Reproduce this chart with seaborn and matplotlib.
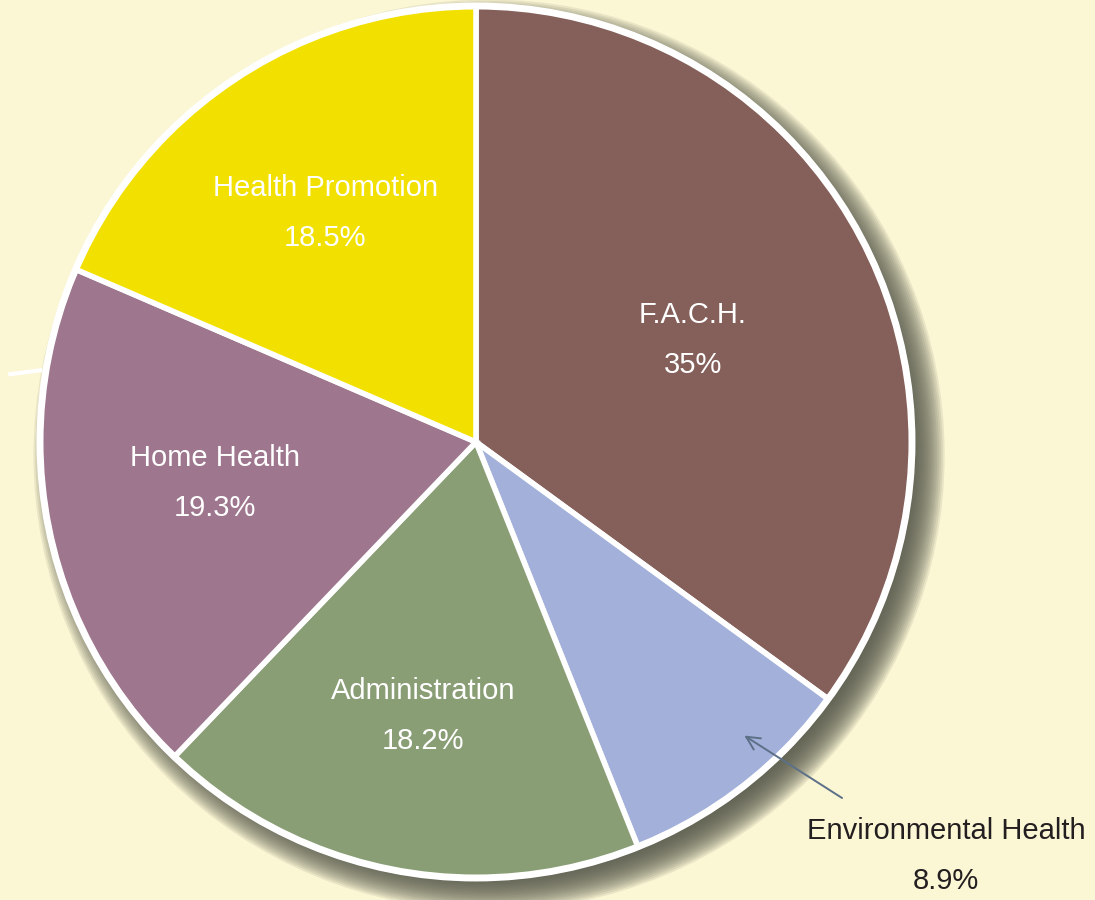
import numpy as np
import matplotlib
matplotlib.use("Agg")
import matplotlib.pyplot as plt
import seaborn as sns

# data, clockwise from 12 o'clock
labels = ["F.A.C.H.", "Environmental Health", "Administration", "Home Health", "Health Promotion"]
pct_text = ["35%", "8.9%", "18.2%", "19.3%", "18.5%"]
shares = [35.0, 8.9, 18.2, 19.3, 18.5]
colors = ["#85605A", "#A2B0DA", "#8A9E76", "#9E768E", "#F2E000"]

bg = "#FBF6D4"

sns.set_theme(style="white")
plt.rcParams['font.family'] = ['Liberation Sans', 'DejaVu Sans']

fig = plt.figure(figsize=(10.95, 9), dpi=100)
fig.patch.set_facecolor(bg)
ax = fig.add_axes([0, 0, 1, 1])
ax.set_facecolor(bg)

R = 1.0
# drop shadow: stacked translucent discs offset down-right, fakes a blur
for s in np.linspace(-0.035, 0.045, 20):
    ax.add_patch(plt.Circle((0.03, -0.03), R + s, facecolor="#56584B", edgecolor="none",
                            alpha=0.11, zorder=0))

wedges, _ = ax.pie(shares, colors=colors, startangle=90, counterclock=False, radius=R,
                   wedgeprops=dict(edgecolor="white", linewidth=4))
for w in wedges:
    w.set_zorder(2)
ax.add_patch(plt.Circle((0, 0), R, fill=False, edgecolor="white", linewidth=5, zorder=3))

# labels inside wedges: (radial distance, angle nudge in degrees)
place = {"F.A.C.H.": (0.55, -1.7), "Administration": (0.64, 0.0),
         "Home Health": (0.606, -2.5), "Health Promotion": (0.63, 0.0)}
for w, lab, pct in zip(wedges, labels, pct_text):
    if lab not in place:
        continue
    r, nudge = place[lab]
    ang = np.deg2rad((w.theta1 + w.theta2) / 2 + nudge)
    ax.text(r * np.cos(ang), r * np.sin(ang), lab + "\n" + pct, ha="center", va="center",
            color="white", fontsize=21, linespacing=2.0, zorder=4)

# environmental health callout
ax.annotate("", xy=(0.61, -0.67), xytext=(0.845, -0.82),
            arrowprops=dict(arrowstyle="->", color="#5C7088", lw=1.4, mutation_scale=24), zorder=5)
ax.text(1.078, -0.95, labels[1] + "\n" + pct_text[1], ha="center", va="center",
        color="#231F20", fontsize=21, linespacing=2.0, zorder=5)

# stray white stroke at the left edge
ax.plot([-1.073, -0.995], [0.155, 0.165], color="white", lw=3, zorder=1, solid_capstyle="butt")

ax.set_xlim(-1.0917, 1.4197)
ax.set_ylim(-1.0505, 1.0138)
ax.set_aspect("equal")
ax.axis("off")

fig.savefig("out.png", dpi=100, facecolor=bg)
